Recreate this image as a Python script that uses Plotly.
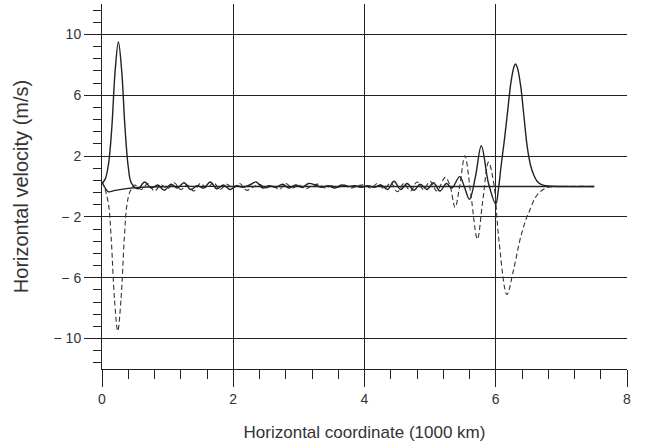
import plotly.graph_objects as go

# Solid curve with peaks (u)
u_x = [0.0, 0.05, 0.1, 0.15, 0.2, 0.25, 0.3, 0.35, 0.4, 0.45,
       0.55, 0.65, 0.75, 0.85, 0.95, 1.05, 1.15, 1.25, 1.35, 1.45, 1.55, 1.65, 1.75, 1.85, 1.95,
       2.05, 2.15, 2.25, 2.35, 2.45, 2.55, 2.65, 2.75, 2.85, 2.95, 3.05, 3.15, 3.25, 3.35, 3.45,
       3.55, 3.65, 3.75, 3.85, 3.95, 4.05, 4.15, 4.25, 4.35, 4.45, 4.55, 4.65, 4.75, 4.85, 4.95,
       5.05, 5.15, 5.25, 5.33, 5.45, 5.52, 5.6, 5.69, 5.78, 5.89, 6.0, 6.04, 6.08, 6.13, 6.18,
       6.23, 6.28, 6.3, 6.33, 6.38, 6.43, 6.48, 6.53, 6.58, 6.63, 6.7, 6.8, 7.0, 7.5]
u_y = [0.2, 0.5, 1.5, 3.9, 7.6, 9.5, 7.6, 3.9, 1.3, 0.2,
       -0.15, 0.3, -0.1, 0.1, -0.25, 0.15, -0.1, 0.25, -0.2, 0.05, -0.1, 0.3, -0.15, 0.1, -0.2,
       0.05, -0.05, 0.1, 0.3, -0.1, 0.05, -0.05, 0.15, -0.1, 0.1, -0.05, 0.2, 0.1, -0.05, 0.05,
       -0.1, 0.1, 0.0, 0.05, -0.05, 0.05, -0.05, 0.1, -0.2, 0.35, -0.2, 0.2, -0.25, 0.15, -0.2,
       0.25, -0.3, 0.2, -0.1, 0.65, 0.0, -0.84, 0.64, 2.68, 0.2, -1.15, -0.2, 1.3, 3.0, 4.9,
       6.8, 7.9, 8.05, 7.8, 6.6, 4.6, 2.6, 1.4, 0.75, 0.35, 0.12, 0.03, 0.0, 0.0]

# Dashed curve (v)
v_x = [0.0, 0.04, 0.1, 0.14, 0.19, 0.24, 0.29, 0.34, 0.38, 0.43,
       0.5, 0.6, 0.7, 0.8, 0.9, 1.0, 1.1, 1.2, 1.3, 1.4, 1.5, 1.6, 1.7, 1.8, 1.9,
       2.0, 2.1, 2.2, 2.3, 2.4, 2.5, 2.6, 2.7, 2.8, 2.9, 3.0, 3.1, 3.2, 3.3, 3.4,
       3.5, 3.6, 3.7, 3.8, 3.9, 4.0, 4.1, 4.2, 4.3, 4.4, 4.5, 4.6, 4.7, 4.8, 4.9,
       5.0, 5.1, 5.23, 5.3, 5.38, 5.45, 5.53, 5.62, 5.72, 5.8, 5.89, 5.97, 6.05, 6.17,
       6.27, 6.37, 6.45, 6.52, 6.6, 6.68, 6.8, 7.0, 7.5]
v_y = [0.3, -0.1, -1.2, -3.4, -7.4, -9.5, -7.4, -3.4, -1.2, -0.3,
       0.1, -0.2, 0.2, -0.3, 0.1, -0.15, 0.25, -0.2, 0.1, -0.3, 0.2, -0.1, 0.25, -0.2, 0.15,
       -0.1, 0.2, -0.25, -0.05, 0.15, -0.1, 0.05, -0.2, 0.2, -0.1, 0.1, -0.15, 0.05, 0.15, -0.1,
       0.05, -0.05, 0.1, -0.1, 0.05, 0.1, -0.1, 0.2, -0.15, 0.25, -0.35, 0.2, -0.3, 0.3, -0.2,
       0.35, -0.3, 0.6, 0.1, -1.37, 0.0, 2.02, -0.5, -3.46, -1.0, 1.6, 0.2, -3.6, -7.1,
       -5.5, -3.5, -2.3, -1.54, -0.75, -0.34, -0.05, 0.0, 0.0]

# Near-zero solid curve (w)
w_x = [0.0, 0.05, 0.1, 0.2, 0.4, 0.6, 1.0, 2.0, 3.0, 4.0, 5.0, 6.0, 7.0, 7.5]
w_y = [0.3, -0.1, -0.35, -0.25, -0.12, -0.05, 0.0, 0.0, 0.0, 0.0, 0.0, 0.0, 0.0, 0.0]

y_tickvals = [-10, -6, -2, 2, 6, 10]
y_ticktext = ["\u2212 10", "\u2212 6", "\u2212 2", "2", "6", "10"]
x_tickvals = [0, 2, 4, 6, 8]
x_ticktext = ["0", "2", "4", "6", "8"]

INK = "#222222"
TXT = "#333333"

fig = go.Figure()
fig.add_trace(go.Scatter(x=w_x, y=w_y, mode="lines",
                         line=dict(color=INK, width=1.3, shape="spline", smoothing=1.0)))
fig.add_trace(go.Scatter(x=v_x, y=v_y, mode="lines",
                         line=dict(color="#333333", width=1.1, dash="5px,3px", shape="spline", smoothing=1.0)))
fig.add_trace(go.Scatter(x=u_x, y=u_y, mode="lines",
                         line=dict(color=INK, width=1.4, shape="spline", smoothing=1.0)))

fig.update_layout(
    width=652, height=448,
    margin=dict(l=102, r=25, t=4, b=79),
    paper_bgcolor="white", plot_bgcolor="white",
    showlegend=False,
    font=dict(family="Liberation Sans, Arial, sans-serif", color=TXT, size=14),
)
fig.update_xaxes(
    range=[0, 8], tickmode="array", tickvals=x_tickvals, ticktext=x_ticktext,
    automargin=False,
    showgrid=True, gridcolor=INK, gridwidth=1,
    showline=True, linecolor=INK, linewidth=1,
    ticks="outside", ticklen=17, tickwidth=1, tickcolor=INK,
    minor=dict(dtick=0.4, tick0=0, ticks="outside", ticklen=9, tickwidth=1, tickcolor=INK, showgrid=False),
    zeroline=False,
    title=dict(text="Horizontal coordinate (1000 km)", font=dict(size=17, color=TXT), standoff=20),
    tickfont=dict(size=14, color=TXT),
)
fig.update_yaxes(
    range=[-12, 12], tickmode="array", tickvals=y_tickvals, ticktext=y_ticktext,
    automargin=False,
    showgrid=True, gridcolor=INK, gridwidth=1,
    showline=True, linecolor=INK, linewidth=1,
    ticks="outside", ticklen=17, tickwidth=1, tickcolor=INK,
    minor=dict(dtick=0.8, tick0=2, ticks="outside", ticklen=8, tickwidth=1, tickcolor=INK, showgrid=False),
    zeroline=False,
    title=dict(text="Horizontal velocity (m/s)", font=dict(size=20, color=TXT), standoff=19),
    tickfont=dict(size=14, color=TXT),
)

fig.write_html("out.html", config={"displayModeBar": False},
               post_script="document.body.style.margin='0';")
